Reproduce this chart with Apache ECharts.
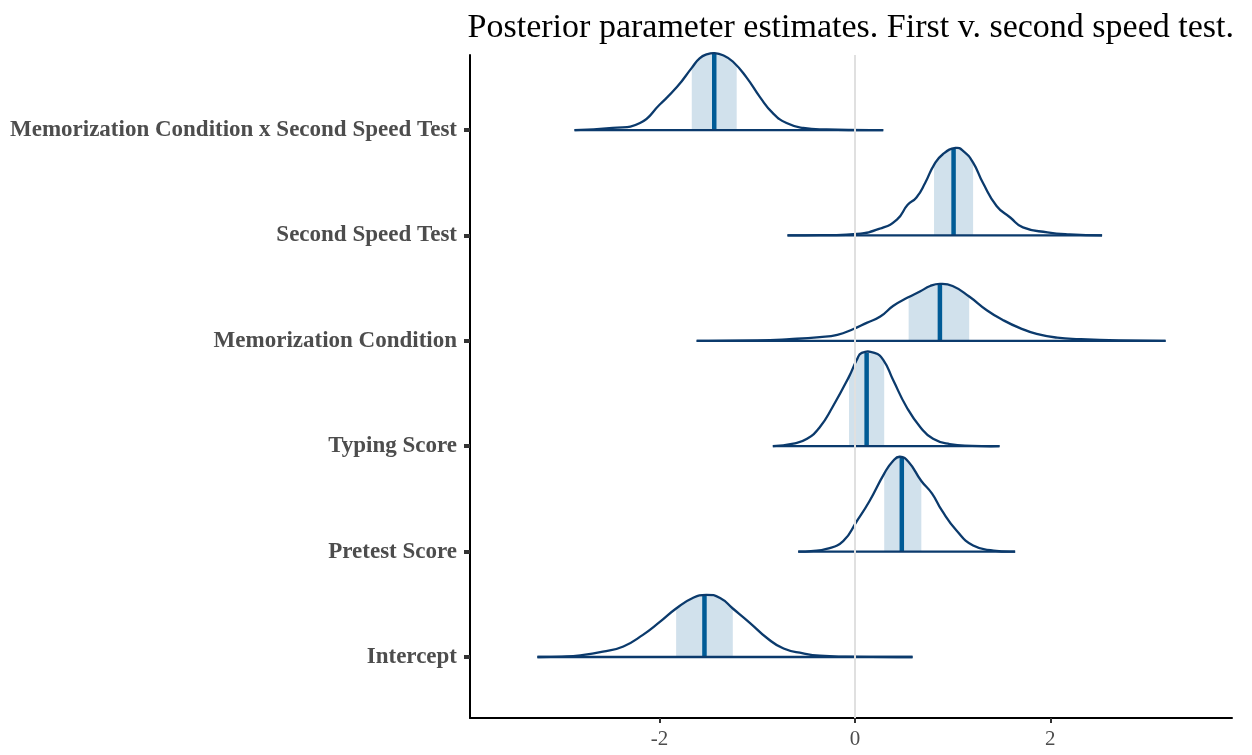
<!DOCTYPE html>
<html>
<head>
<meta charset="utf-8">
<script src="https://cdn.jsdelivr.net/npm/echarts@6/dist/echarts.min.js"></script>
<style>
  html, body { margin: 0; padding: 0; background: #ffffff; }
  #chart { width: 1252px; height: 755px; }
</style>
</head>
<body>
<div id="chart"></div>
<script>
// Parameters, bottom row first
const params = [
  'Intercept',
  'Pretest Score',
  'Typing Score',
  'Memorization Condition',
  'Second Speed Test',
  'Memorization Condition x Second Speed Test'
];

// Posterior density curves: x values and scaled density heights (in row units)
const densX = [
  [-3.25, -3.00, -2.81, -2.58, -2.37, -2.17, -2.00, -1.83, -1.66, -1.52, -1.38, -1.25, -1.07, -0.90, -0.73, -0.53, -0.36, -0.10, 0.59],
  [-0.58, -0.45, -0.29, -0.12, 0.02, 0.15, 0.30, 0.39, 0.46, 0.55, 0.68, 0.79, 0.89, 1.04, 1.21, 1.42, 1.64],
  [-0.84, -0.63, -0.49, -0.36, -0.23, -0.06, 0.02, 0.07, 0.20, 0.29, 0.39, 0.53, 0.67, 0.80, 0.97, 1.20, 1.48],
  [-1.62, -1.00, -0.67, -0.36, -0.18, -0.02, 0.12, 0.26, 0.39, 0.54, 0.67, 0.77, 0.87, 1.00, 1.17, 1.35, 1.51, 1.69, 1.86, 2.07, 2.30, 2.70, 3.18],
  [-0.69, -0.36, 0.02, 0.26, 0.43, 0.54, 0.63, 0.72, 0.81, 0.90, 1.03, 1.11, 1.21, 1.31, 1.45, 1.59, 1.72, 1.97, 2.20, 2.53],
  [-2.87, -2.48, -2.20, -2.00, -1.82, -1.67, -1.59, -1.51, -1.44, -1.35, -1.25, -1.11, -0.97, -0.84, -0.70, -0.53, -0.29, 0.29]
];
const densH = [
  [0, 0.004, 0.016, 0.05, 0.10, 0.21, 0.33, 0.46, 0.56, 0.59, 0.56, 0.46, 0.32, 0.18, 0.08, 0.035, 0.012, 0.003, 0],
  [0, 0.005, 0.025, 0.10, 0.29, 0.48, 0.74, 0.86, 0.90, 0.85, 0.67, 0.55, 0.39, 0.20, 0.057, 0.01, 0],
  [0, 0.025, 0.07, 0.18, 0.37, 0.66, 0.82, 0.885, 0.885, 0.82, 0.63, 0.37, 0.18, 0.07, 0.02, 0.003, 0],
  [0, 0.004, 0.016, 0.035, 0.057, 0.11, 0.17, 0.23, 0.33, 0.41, 0.47, 0.52, 0.54, 0.52, 0.42, 0.29, 0.20, 0.12, 0.066, 0.03, 0.016, 0.004, 0],
  [0, 0.003, 0.014, 0.066, 0.15, 0.29, 0.36, 0.50, 0.67, 0.77, 0.83, 0.80, 0.69, 0.50, 0.28, 0.17, 0.076, 0.03, 0.01, 0],
  [0, 0.02, 0.066, 0.24, 0.41, 0.59, 0.68, 0.72, 0.73, 0.71, 0.65, 0.50, 0.31, 0.16, 0.066, 0.02, 0.005, 0]
];

// Posterior medians and inner (shaded) interval bounds
const medians = [-1.54, 0.48, 0.12, 0.87, 1.01, -1.44];
const innerLo = [-1.83, 0.30, -0.06, 0.55, 0.81, -1.67];
const innerHi = [-1.25, 0.68, 0.30, 1.17, 1.21, -1.21];

// X axis tick labels
const xTicks = [-2, 0, 2];

const colLight = '#d1e1ec';
const colMid = '#005b96';
const colDark = '#0b3a6c';
const serif = '"Liberation Serif", "Times New Roman", serif';

function heightAt(r, x) {
  const xs = densX[r], hs = densH[r];
  if (x <= xs[0]) return hs[0];
  for (let i = 1; i < xs.length; i++) {
    if (x <= xs[i]) {
      const t = (x - xs[i - 1]) / (xs[i] - xs[i - 1]);
      return hs[i - 1] + t * (hs[i] - hs[i - 1]);
    }
  }
  return hs[hs.length - 1];
}

function renderRidge(p, api) {
  const r = api.value(0);
  const xs = densX[r], hs = densH[r];
  const pt = (x, h) => api.coord([x, r + h]);
  const lo = innerLo[r], hi = innerHi[r];

  const band = [pt(lo, 0), pt(lo, heightAt(r, lo))];
  for (let i = 0; i < xs.length; i++) {
    if (xs[i] > lo && xs[i] < hi) band.push(pt(xs[i], hs[i]));
  }
  band.push(pt(hi, heightAt(r, hi)), pt(hi, 0));

  const curve = xs.map((x, i) => pt(x, hs[i]));
  const base0 = pt(xs[0], 0), base1 = pt(xs[xs.length - 1], 0);
  const m0 = pt(medians[r], 0), m1 = pt(medians[r], heightAt(r, medians[r]));

  return {
    type: 'group',
    children: [
      { type: 'polygon', shape: { points: band }, style: { fill: colLight, stroke: null } },
      { type: 'line', shape: { x1: m0[0], y1: m0[1], x2: m1[0], y2: m1[1] },
        style: { stroke: colMid, lineWidth: 4.5 } },
      { type: 'polyline', shape: { points: curve, smooth: 0.5 },
        style: { stroke: colDark, lineWidth: 2.3, fill: null } },
      { type: 'line', shape: { x1: base0[0], y1: base0[1], x2: base1[0], y2: base1[1] },
        style: { stroke: colDark, lineWidth: 2.3 } }
    ]
  };
}

const chart = echarts.init(document.getElementById('chart'), null, { renderer: 'canvas' });
chart.setOption({
  animation: false,
  backgroundColor: '#ffffff',
  title: {
    text: 'Posterior parameter estimates. First v. second speed test.',
    right: 13,
    top: 6,
    textStyle: { fontFamily: serif, fontSize: 34, fontWeight: 'normal', color: '#000000' }
  },
  grid: { left: 470, right: 20, top: 55, bottom: 37, containLabel: false },
  xAxis: {
    type: 'value',
    min: -3.94,
    max: 3.86,
    splitLine: { show: false },
    axisLine: { show: true, onZero: false, lineStyle: { color: '#000000', width: 2 } },
    axisTick: { show: true, customValues: xTicks, length: 5, lineStyle: { color: '#333333', width: 2 } },
    axisLabel: { show: true, customValues: xTicks, margin: 11, fontFamily: serif, fontSize: 21, color: '#4d4d4d' }
  },
  yAxis: {
    type: 'value',
    min: -0.579,
    max: 5.712,
    splitLine: { show: false },
    axisLine: { show: true, onZero: false, lineStyle: { color: '#000000', width: 2 } },
    axisTick: { show: true, customValues: [0, 1, 2, 3, 4, 5], length: 6, lineStyle: { color: '#333333', width: 4 } },
    axisLabel: {
      show: true,
      customValues: [0, 1, 2, 3, 4, 5],
      margin: 13,
      fontFamily: serif,
      fontSize: 23,
      fontWeight: 'bold',
      color: '#4d4d4d',
      formatter: v => params[Math.round(v)]
    }
  },
  series: [
    {
      type: 'line',
      data: [],
      z: 1,
      silent: true,
      markLine: {
        silent: true,
        symbol: 'none',
        label: { show: false },
        lineStyle: { color: '#e0e0e0', width: 2, type: 'solid' },
        data: [{ xAxis: 0 }]
      }
    },
    {
      type: 'custom',
      z: 3,
      data: params.map((_, i) => [i]),
      encode: { y: 0 },
      renderItem: renderRidge
    }
  ]
});
</script>
</body>
</html>
